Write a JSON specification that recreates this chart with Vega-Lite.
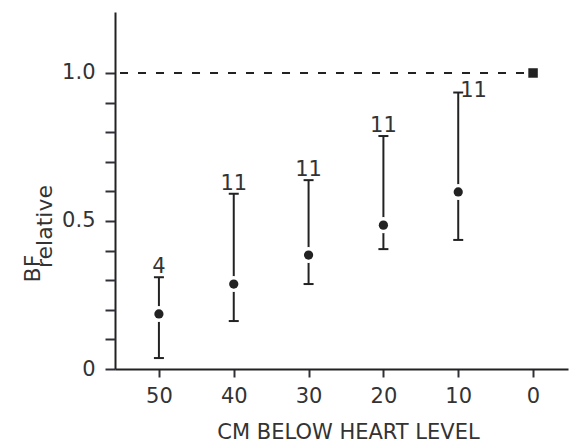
{
  "$schema": "https://vega.github.io/schema/vega-lite/v6.json",
  "autosize": "none",
  "width": 453,
  "height": 357,
  "padding": {"left": 115, "top": 12, "right": 2, "bottom": 74},
  "background": "white",
  "config": {
    "view": {"stroke": null},
    "font": "DejaVu Sans",
    "axis": {"grid": false, "labelFont": "DejaVu Sans", "titleFont": "DejaVu Sans", "labelColor": "#333", "titleColor": "#333", "titleFontWeight": "normal"}
  },
  "datasets": {
    "pts": [
      {"cm": 50, "mean": 0.186, "lo": 0.037, "hi": 0.31, "n": "4"},
      {"cm": 40, "mean": 0.287, "lo": 0.162, "hi": 0.592, "n": "11"},
      {"cm": 30, "mean": 0.385, "lo": 0.287, "hi": 0.638, "n": "11"},
      {"cm": 20, "mean": 0.486, "lo": 0.405, "hi": 0.787, "n": "11"},
      {"cm": 10, "mean": 0.598, "lo": 0.436, "hi": 0.934, "n": "11"}
    ],
    "ref": [
      {"cm": 0, "value": 1.0, "start": 55.2}
    ]
  },
  "resolve": {"axis": {"y": "independent"}},
  "layer": [
    {
      "data": {"name": "ref"},
      "mark": {"type": "rule", "strokeDash": [8, 10], "strokeWidth": 2, "color": "#222"},
      "encoding": {
        "x": {"field": "start", "type": "quantitative",
          "scale": {"domain": [-4.67, 55.87], "reverse": true, "nice": false, "zero": false},
          "axis": {"values": [50, 40, 30, 20, 10, 0], "domainColor": "#222", "domainWidth": 2, "tickColor": "#30303a", "tickWidth": 2, "tickSize": 8, "labelPadding": 8, "labelFontSize": 21, "title": "CM BELOW HEART LEVEL", "titleFontSize": 21, "titleX": 233, "titleY": 69, "titleBaseline": "alphabetic", "titleAlign": "center"}},
        "x2": {"field": "cm"},
        "y": {"field": "value", "type": "quantitative",
          "scale": {"domain": [0, 1.206], "nice": false, "zero": false},
          "axis": {"orient": "left", "values": [0, 0.5, 1.0], "domainColor": "#222", "domainWidth": 2, "tickColor": "#30303a", "tickWidth": 2, "tickSize": 10, "labelPadding": 10, "labelFontSize": 21,
            "labelExpr": "datum.value == 0 ? '0' : (datum.value == 0.5 ? '0.5' : '1.0')",
            "title": "BF", "titleFontSize": 22, "titleAngle": -90, "titleX": -76, "titleY": 256, "titleAlign": "center", "titleBaseline": "alphabetic"}}
      }
    },
    {
      "data": {"name": "ref"},
      "mark": {"type": "point", "shape": "square", "filled": true, "size": 90, "color": "#222", "opacity": 1},
      "encoding": {
        "x": {"field": "cm", "type": "quantitative"},
        "y": {"field": "value", "type": "quantitative",
          "axis": {"orient": "left", "domain": false, "ticks": true, "labels": true, "labelColor": "#ffffff", "labelFontSize": 8, "grid": false,
            "values": [0.1, 0.2, 0.3, 0.4, 0.6, 0.7, 0.8, 0.9], "tickColor": "#30303a", "tickWidth": 2, "tickSize": 10,
            "title": "relative", "titleFontSize": 22, "titleAngle": -90, "titleX": -64, "titleY": 214, "titleAlign": "center", "titleBaseline": "alphabetic"}}
      }
    },
    {
      "data": {"name": "pts"},
      "mark": {"type": "rule", "strokeWidth": 2, "color": "#222"},
      "encoding": {
        "x": {"field": "cm", "type": "quantitative"},
        "y": {"field": "lo", "type": "quantitative", "axis": null},
        "y2": {"field": "hi"}
      }
    },
    {
      "data": {"name": "pts"},
      "mark": {"type": "tick", "orient": "horizontal", "size": 10, "thickness": 2, "color": "#222", "opacity": 1},
      "encoding": {
        "x": {"field": "cm", "type": "quantitative"},
        "y": {"field": "lo", "type": "quantitative", "axis": null}
      }
    },
    {
      "data": {"name": "pts"},
      "mark": {"type": "tick", "orient": "horizontal", "size": 10, "thickness": 2, "color": "#222", "opacity": 1},
      "encoding": {
        "x": {"field": "cm", "type": "quantitative"},
        "y": {"field": "hi", "type": "quantitative", "axis": null}
      }
    },
    {
      "data": {"name": "pts"},
      "mark": {"type": "point", "shape": "circle", "filled": true, "size": 260, "color": "white", "opacity": 1},
      "encoding": {
        "x": {"field": "cm", "type": "quantitative"},
        "y": {"field": "mean", "type": "quantitative", "axis": null}
      }
    },
    {
      "data": {"name": "pts"},
      "mark": {"type": "point", "shape": "circle", "filled": true, "size": 85, "color": "#222", "opacity": 1},
      "encoding": {
        "x": {"field": "cm", "type": "quantitative"},
        "y": {"field": "mean", "type": "quantitative", "axis": null}
      }
    },
    {
      "data": {"name": "pts"},
      "transform": [{"filter": "datum.cm != 10"}],
      "mark": {"type": "text", "align": "center", "baseline": "alphabetic", "dy": -4, "fontSize": 21, "color": "#333", "font": "DejaVu Sans"},
      "encoding": {
        "x": {"field": "cm", "type": "quantitative"},
        "y": {"field": "hi", "type": "quantitative", "axis": null},
        "text": {"field": "n"}
      }
    },
    {
      "data": {"name": "pts"},
      "transform": [{"filter": "datum.cm == 10"}],
      "mark": {"type": "text", "align": "left", "baseline": "alphabetic", "dx": 2, "dy": 4, "fontSize": 21, "color": "#333", "font": "DejaVu Sans"},
      "encoding": {
        "x": {"field": "cm", "type": "quantitative"},
        "y": {"field": "hi", "type": "quantitative", "axis": null},
        "text": {"field": "n"}
      }
    }
  ]
}
